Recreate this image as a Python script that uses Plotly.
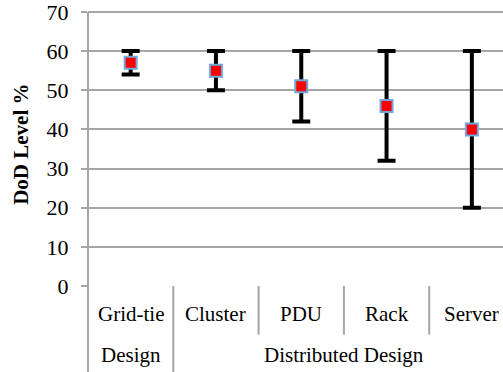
import plotly.graph_objects as go

categories = ["Grid-tie", "Cluster", "PDU", "Rack", "Server"]
groups = ["Design", "Distributed Design"]
group_members = [[0], [1, 2, 3, 4]]
mean_vals = [57, 55, 51, 46, 40]
min_vals = [54, 50, 42, 32, 20]
max_vals = [60, 60, 60, 60, 60]
y_ticks = [0, 10, 20, 30, 40, 50, 60, 70]

GRID = "#a6a6a6"
FONT = "Liberation Serif"

fig = go.Figure()
fig.add_trace(go.Scatter(
    x=list(range(len(categories))), y=mean_vals, mode="markers",
    marker=dict(symbol="square", size=12, color="#ff0000",
                line=dict(color="#6fa8dc", width=2)),
    error_y=dict(type="data", symmetric=False,
                 array=[mx - m for mx, m in zip(max_vals, mean_vals)],
                 arrayminus=[m - mn for m, mn in zip(mean_vals, min_vals)],
                 color="black", thickness=4, width=9),
    showlegend=False,
))

PH = 280.0  # plot height in px
def py(pix):  # pixel offset below plot bottom -> paper coord
    return -pix / PH

for i, c in enumerate(categories):
    fig.add_annotation(x=i, y=py(28), xref="x", yref="paper", text=c,
                       showarrow=False, font=dict(family=FONT, size=21, color="black"),
                       xanchor="center", yanchor="middle")
for g, mem in zip(groups, group_members):
    fig.add_annotation(x=(mem[0] + mem[-1]) / 2, y=py(69), xref="x", yref="paper", text=g,
                       showarrow=False, font=dict(family=FONT, size=21, color="black"),
                       xanchor="center", yanchor="middle")

for i in range(len(categories) - 1):
    is_group_edge = any(i + 0.5 == mem[0] - 0.5 for mem in group_members[1:])
    y1 = py(90) if is_group_edge else py(49)
    fig.add_shape(type="line", xref="x", yref="paper", x0=i + 0.5, x1=i + 0.5,
                  y0=0, y1=y1, line=dict(color=GRID, width=2))
fig.add_shape(type="line", xref="paper", yref="y", x0=0, x1=0, y0=70, y1=0,
              line=dict(color=GRID, width=2))
fig.add_shape(type="line", xref="paper", yref="paper", x0=0, x1=0, y0=0, y1=py(90),
              line=dict(color=GRID, width=2))

fig.add_annotation(x=-0.16, y=0.51, xref="paper", yref="paper", text="<b>DoD Level %</b>",
                   textangle=-90, showarrow=False,
                   font=dict(family=FONT, size=21, color="black"),
                   xanchor="center", yanchor="middle")

fig.update_xaxes(range=[-0.5, 4.365], showticklabels=False, showgrid=False,
                 zeroline=False, showline=False, ticks="")
fig.update_yaxes(range=[0, 71], tickvals=y_ticks, showgrid=True, gridcolor=GRID,
                 gridwidth=2, zeroline=False, showline=False, ticks="outside",
                 ticklen=6, tickwidth=2, tickcolor=GRID, ticklabelstandoff=8,
                 ticklabeloverflow="allow",
                 tickfont=dict(family=FONT, size=22, color="black"))

fig.update_layout(width=503, height=372, margin=dict(l=88, r=0, t=6, b=86),
                  plot_bgcolor="white", paper_bgcolor="white")
fig.write_html("out.html")
